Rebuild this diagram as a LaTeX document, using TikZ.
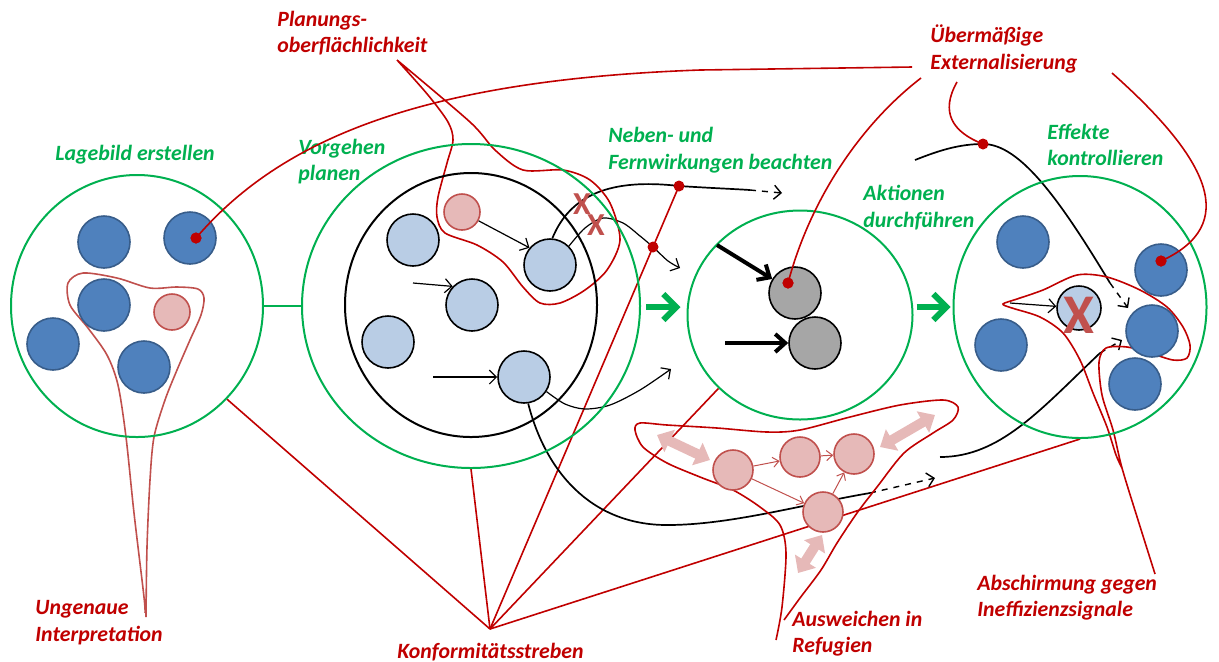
\documentclass[tikz,border=0pt]{standalone}
\usepackage{fontspec}
\setmainfont{Carlito}
\usetikzlibrary{arrows.meta,shapes.geometric,calc}
\pgfdeclarelayer{bg}
\pgfsetlayers{bg,main}
\definecolor{grn}{HTML}{00B050}
\definecolor{dred}{HTML}{C00000}
\definecolor{lred}{HTML}{C0504D}
\definecolor{dblue}{HTML}{4F81BD}
\definecolor{dbluebd}{HTML}{385D8A}
\definecolor{lblue}{HTML}{B9CDE5}
\definecolor{pinkf}{HTML}{E6B9B8}
\definecolor{grayf}{HTML}{A6A6A6}
\tikzset{
  bigc/.style={ellipse, draw=grn, line width=1pt, inner sep=0pt},
  dc/.style={circle, fill=dblue, draw=dbluebd, line width=0.8pt, minimum size=26pt, inner sep=0pt},
  lc/.style={circle, fill=lblue, draw=black, line width=0.8pt, minimum size=26pt, inner sep=0pt},
  pc/.style={circle, fill=pinkf, draw=lred, line width=0.8pt, minimum size=18pt, inner sep=0pt},
  gc/.style={circle, fill=grayf, draw=black, line width=0.8pt, minimum size=26pt, inner sep=0pt},
  rdot/.style={circle, fill=dred, inner sep=0pt, minimum size=5.5pt},
  glbl/.style={font=\fontsize{10.9}{13.2}\selectfont\bfseries\itshape, text=grn, align=left, inner sep=0pt, anchor=west},
  rlbl/.style={glbl, text=dred},
  rline/.style={draw=dred, line width=0.8pt},
  lline/.style={draw=lred, line width=0.8pt},
  blk/.style={draw=black, line width=0.85pt},
  tarrow/.style={draw=black, line width=0.6pt, -{Straight Barb[length=3.5pt,width=7pt]}},
  darrow/.style={draw=black, line width=0.7pt, dashed, -{Straight Barb[length=3.5pt,width=7pt]}},
  garrow/.style={draw=grn, line width=3pt, -{Straight Barb[length=6.5pt,width=13pt]}},
  karrow/.style={draw=black, line width=2pt, -{Straight Barb[length=5pt,width=9pt]}},
  parrow/.style={draw=pinkf, line width=5pt, {Triangle[length=7pt,width=12pt]}-{Triangle[length=7pt,width=12pt]}},
  rarrow/.style={draw=lred, line width=0.5pt, -{Straight Barb[length=3pt,width=5pt]}},
  xmark/.style={text=lred, font=\fontsize{16}{16}\selectfont\bfseries, inner sep=0pt}
}
\begin{document}
\begin{tikzpicture}[x=0.5pt,y=-0.5pt]
\useasboundingbox (0,0) rectangle (1219,661);

% big circles
\node[bigc, minimum width=126pt, minimum height=131pt] (C1) at (137,306) {};
\node[bigc, minimum width=169pt, minimum height=162pt] (C2) at (471,306) {};
\node[ellipse, draw=black, line width=1pt, minimum width=126pt, minimum height=132pt, inner sep=0pt] (C2i) at (471,305) {};
\node[bigc, minimum width=112.5pt, minimum height=104.5pt] (C3) at (800,315) {};
\node[bigc, minimum width=126.5pt, minimum height=131pt] (C4) at (1080,307) {};

% small circles
\node[dc] (a1) at (104,242) {};
\node[dc] (a2) at (190,238) {};
\node[dc] (a3) at (104,305) {};
\node[dc] (a4) at (53,344) {};
\node[dc] (a5) at (144,367) {};
\node[pc] (a6) at (172,312) {};

\node[lc] (b1) at (413,240) {};
\node[lc] (b2) at (472,305) {};
\node[lc] (b3) at (388,342) {};
\node[lc] (b4) at (550,265) {};
\node[lc] (b5) at (524,377) {};
\node[pc] (b6) at (462,212) {};

\node[gc] (g1) at (795,293) {};
\node[gc] (g2) at (815,343) {};

\node[dc] (c1) at (1023,242) {};
\node[dc] (c2) at (1161,270) {};
\node[dc] (c3) at (1001,345) {};
\node[dc] (c4) at (1152,331) {};
\node[dc] (c5) at (1135,384) {};
\node[lc, minimum size=22pt] (c6) at (1079,308) {};

\node[pc, minimum size=20pt] (r1) at (733,470) {};
\node[pc, minimum size=20pt] (r2) at (800,457) {};
\node[pc, minimum size=20pt] (r3) at (854,454) {};
\node[pc, minimum size=20pt] (r4) at (823,512) {};

% dots
\node[rdot] (dA) at (196,238) {};
\node[rdot] (dG) at (788,283) {};
\node[rdot] (dC) at (1161,261) {};
\node[rdot] (dE) at (983,144) {};
\node[rdot] (d1) at (679,186) {};
\node[rdot] (d2) at (653,247) {};

% coordinates
\coordinate (konf) at (490,629);
\coordinate (e1) at (912,67);
\coordinate (e2) at (921,78);
\coordinate (e3) at (957,82);
\coordinate (e4) at (1112,73);

% labels
\node[glbl] (lage) at (55,155) {Lagebild erstellen};
\node[glbl] (vorg) at (298,161.5) {Vorgehen\\planen};
\node[glbl] (nebe) at (608,150) {Neben- und\\Fernwirkungen beachten};
\node[glbl] (akti) at (863,207.5) {Aktionen\\durchführen};
\node[glbl] (effe) at (1047,145) {Effekte\\kontrollieren};
\node[rlbl] (plan) at (277,33) {Planungs-\\oberflächlichkeit};
\node[rlbl] (ueber) at (930,49) {Übermäßige\\Externalisierung};
\node[rlbl] (unge) at (35,622.5) {Ungenaue\\Interpretation};
\node[rlbl] (konfl) at (397,652) {Konformitätsstreben};
\node[rlbl] (ausw) at (792,633.5) {Ausweichen in\\Refugien};
\node[rlbl] (absc) at (977,597.5) {Abschirmung gegen\\Ineffizienzsignale};

\begin{pgfonlayer}{bg}
  % green connector C1-C2
  \draw[draw=grn, line width=1pt] (C1) -- (C2);
  % Konformitaetsstreben
  \draw[rline] (konf) -- (C1.-46);
  \draw[rline] (konf) -- (C2.south);
  \draw[rline] (konf) -- (d1.center);
  \draw[rline] (konf) -- (C3.222);
  \draw[rline] (konf) -- (C4.south);
  % black curves
  \draw[blk] (b4.85) .. controls (570,195) and (610,178) .. (d1.center) .. controls (710,188) and (735,189) .. (750,190);
  \draw[darrow] (750,190) -- (782,193);
  \draw[tarrow] plot[smooth] coordinates {(b4.45) (585,228) (603,218) (623,223) (640,236) (d2.center) (668,261) (680,268)};
  \draw[tarrow] plot[smooth] coordinates {(b5.-33) (565,404) (585,409) (610,405) (640,390) (671,369)};
  \draw[blk] (b5.-81) .. controls (545,470) and (590,525) .. (667,525) .. controls (730,525) and (800,505) .. (870,493);
  \draw[darrow] (870,493) -- (935,478);
  \draw[blk] (915,160) .. controls (940,150) and (960,144) .. (dE.center) .. controls (1020,144) and (1060,200) .. (1110,283);
  \draw[darrow] (1110,283) -- (1128,308);
  \draw[blk] (940,457) .. controls (1000,457) and (1040,410) .. (1100,353);
  \draw[darrow] (1100,353) -- (1122,340);
  % loops
  \draw[lline] plot[smooth] coordinates {(146,617) (147,547) (150,480) (154,437) (165,400) (177,370) (190,340) (201,315) (204,298) (198,289) (177,287) (150,288) (117,278) (83,273) (68,283) (70,305) (88,328) (107,355) (118,385) (126,437) (134,513) (144,597) (145,613)};
  \draw[rline] plot[smooth] coordinates {(397,60) (428,95) (448,122) (453,140) (447,163) (438,197) (437,217) (445,233) (477,245) (503,262) (523,287) (540,303) (560,303) (585,290) (607,270) (620,240) (610,203) (590,180) (563,170) (523,170) (495,150) (470,122) (397,60)};
  \draw[rline] plot[smooth] coordinates {(776,640) (782,607) (786,553) (780,525) (760,507) (733,490) (700,477) (667,463) (643,447) (635,430) (640,423) (667,425) (717,428) (767,432) (800,430) (850,417) (900,405) (943,400) (958,407) (953,420) (933,433) (904,453) (877,487) (857,513) (837,543) (821,570) (800,598) (784,620)};
  \draw[rline] plot[smooth] coordinates {(1155,574) (1138,520) (1122,468) (1113,430) (1102,395) (1099,362) (1106,348) (1127,347) (1150,353) (1173,360) (1187,358) (1190,345) (1183,327) (1167,307) (1140,290) (1107,277) (1077,275) (1043,290) (1017,299) (1003,304) (1012,308) (1040,317) (1063,333) (1080,360) (1093,393) (1107,427) (1116,455) (1122,468)};
  % Uebermaessige line to the curve dot
  \draw[rline] (e3) .. controls (940,112) and (952,132) .. (dE.center);
\end{pgfonlayer}

% red lines to dots on top of circles
\draw[rline] (dA.center) .. controls (280,140) and (420,80) .. (700,70) -- (e1);
\draw[rline] (e2) .. controls (860,125) and (810,200) .. (dG.center);
\draw[rline] (e4) .. controls (1210,160) and (1240,225) .. (dC.center);
\node[rdot] at (dA) {};
\node[rdot] at (dG) {};
\node[rdot] at (dC) {};

% arrows inside circles
\draw[tarrow] (b6) -- (b4.140);
\coordinate (ta1) at (413,283);
\coordinate (ta2) at (433,377);
\draw[tarrow] (ta1) -- (b2.136);
\draw[tarrow] (ta2) -- (b5.west);
\coordinate (ka1) at (717,245);
\coordinate (ka2) at (725,343);
\draw[karrow] (ka1) -- (g1);
\draw[karrow] (ka2) -- (g2);
\coordinate (ca1) at (1010,303);
\draw[tarrow] (ca1) -- (c6);

% green process arrows
\draw[garrow] ($(C2.east)+(5,1)$) -- ($(C3.west)+(-6,-8)$);
\draw[garrow] ($(C3.east)+(3,-8)$) -- ($(C4.west)+(-2,0)$);

% refugien arrows
\draw[rarrow] (r1) -- (r2);
\draw[rarrow] (r2) -- (r3);
\draw[rarrow] (r1) -- (r4);
\draw[rarrow] (r4) -- (r3);
\draw[parrow] (657,435) -- (710,460);
\draw[parrow] (880,447) -- (935,415);
\draw[parrow] (798,573) -- (822,535);

% X marks
\node[xmark] (x1) at (582,204) {X};
\node[xmark] (x2) at (596,225) {X};
\node[xmark, font=\fontsize{28}{28}\selectfont\bfseries] (x3) at (1079,315) {X};
\end{tikzpicture}
\end{document}
